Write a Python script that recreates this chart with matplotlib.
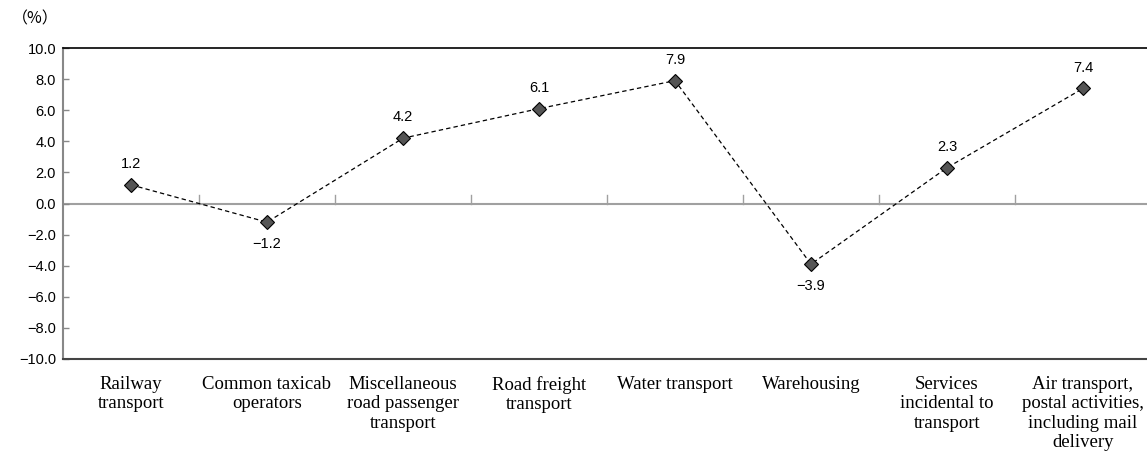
import numpy as np
import matplotlib
matplotlib.use('Agg')
import matplotlib.pyplot as plt

###----------------------------------------------------------------------------
categories = ['Railway\ntransport',
              'Common taxicab\noperators',
              'Miscellaneous\nroad passenger\ntransport',
              'Road freight\ntransport',
              'Water transport',
              'Warehousing',
              'Services\nincidental to\ntransport',
              'Air transport,\npostal activities,\nincluding mail\ndelivery']
values = [1.2, -1.2, 4.2, 6.1, 7.9, -3.9, 2.3, 7.4]
yticks = np.arange(-10, 10.1, 2)
###----------------------------------------------------------------------------

fig = plt.figure(figsize=(11.47, 4.57), dpi=100)
ax = fig.add_axes([63/1147, 98/457, 1 - 63/1147, 311/457])

x = np.arange(len(values))
ax.plot(x, values, linestyle=(0, (3.5, 2.5)), color='black', linewidth=0.9,
        marker='D', markersize=7, markerfacecolor='#555555',
        markeredgecolor='black', markeredgewidth=0.8, zorder=3)

for xi, v in zip(x, values):
    if v >= 0:
        ax.annotate('{:.1f}'.format(v), (xi, v), xytext=(0, 10), textcoords='offset points',
                    ha='center', va='bottom', fontsize=10.5, family='Liberation Sans')
    else:
        ax.annotate('\u2212{:.1f}'.format(-v), (xi, v), xytext=(0, -11), textcoords='offset points',
                    ha='center', va='top', fontsize=10.5, family='Liberation Sans')

# zero line with category dividers
ax.axhline(0, color='#a0a0a0', linewidth=1.5, zorder=1)
for b in x[:-1] + 0.5:
    ax.plot([b, b], [0, 0.55], color='#a0a0a0', linewidth=1.0, zorder=1)

ax.set_xlim(-0.5, len(values) - 0.5 - 4/136)
ax.set_ylim(-10, 10)
ax.set_yticks(yticks)
ax.set_yticklabels([('\u2212' if t < 0 else '') + '{:.1f}'.format(abs(t)) for t in yticks],
                   fontsize=10.5, family='Liberation Sans')
ax.tick_params(axis='y', direction='in', length=4, width=1, color='#888888', pad=5)

ax.set_xticks(x)
ax.set_xticklabels(categories, fontsize=13.5, family='Liberation Serif', linespacing=1.2)
ax.tick_params(axis='x', length=0, pad=12)

ax.spines['right'].set_visible(False)
ax.spines['top'].set_color('black')
ax.spines['top'].set_linewidth(1.2)
ax.spines['bottom'].set_color('#444444')
ax.spines['bottom'].set_linewidth(1.5)
ax.spines['left'].set_color('#888888')
ax.spines['left'].set_linewidth(1.5)

fig.text(12/1147, 1 - 19/457, '（%）', fontsize=11.5, family=['Noto Sans CJK JP', 'DejaVu Sans'],
         ha='left', va='center')

fig.savefig('out.png', dpi=100)
